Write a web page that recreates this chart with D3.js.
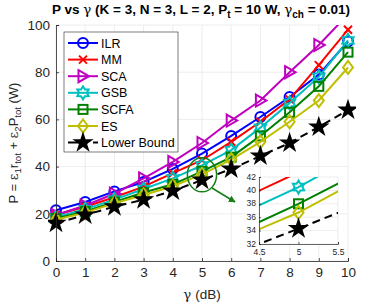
<!DOCTYPE html>
<html>
<head>
<meta charset="UTF-8">
<script src="https://d3js.org/d3.v7.min.js"></script>
<style>
  body { margin: 0; background: #fff; }
  svg { display: block; font-family: "Liberation Sans", Arial, sans-serif; }
</style>
</head>
<body>
<div id="chart"></div>
<script>
// data
const gammaDb = [0, 1, 2, 3, 4, 5, 6, 7, 8, 9, 10];
const ilr  = [21.5, 25, 29.5, 33.5, 39, 45.5, 53, 61, 69.5, 79, 93];
const mm   = [19.5, 23, 27, 31.5, 37.2, 42.7, 50.5, 59, 68.5, 83, 98];
const sca  = [19.5, 23.5, 28.5, 35, 42, 50, 59.5, 68, 80, 91.5, 104.5];
const gsb  = [18.5, 22, 26, 30.5, 35, 40.5, 47, 56.5, 67, 78, 93.5];
const scfa = [18, 21, 25, 29, 32.5, 38, 44, 53, 63, 74, 88.5];
const es   = [17.5, 20.5, 24.5, 28, 31.7, 36.7, 43, 50.5, 59, 68, 82];
const lb   = [16, 19.5, 23, 26, 29.7, 34.3, 39, 44.5, 50, 56.8, 64];

const xTicks = [0, 1, 2, 3, 4, 5, 6, 7, 8, 9, 10];
const yTicks = [0, 20, 40, 60, 80, 100];
const insetXTicks = [4.5, 5, 5.5];
const insetYTicks = [32, 34, 36, 38, 40, 42];

const series = [
  {name: "ILR", values: ilr, color: "#0000ff", marker: "circle"},
  {name: "MM", values: mm, color: "#ff0000", marker: "x"},
  {name: "SCA", values: sca, color: "#bf00bf", marker: "tri"},
  {name: "GSB", values: gsb, color: "#00bfbf", marker: "hex"},
  {name: "SCFA", values: scfa, color: "#008000", marker: "square"},
  {name: "ES", values: es, color: "#bfbf00", marker: "diamond"},
  {name: "Lower Bound", values: lb, color: "#000000", marker: "pent", dash: "8,5"}
];

const W = 366, H = 306;
const svg = d3.select("#chart").append("svg").attr("width", W).attr("height", H);
const axisCol = "#262626", gridCol = "#e8e8e8";

const x = d3.scaleLinear().domain([0, 10]).range([56, 348]);
const y = d3.scaleLinear().domain([0, 100]).range([261, 25]);

function starPath(n, R, ratio) {
  const pts = [];
  for (let i = 0; i < 2 * n; i++) {
    const r = i % 2 === 0 ? R : R * ratio;
    const a = -Math.PI / 2 + i * Math.PI / n;
    pts.push([r * Math.cos(a), r * Math.sin(a)]);
  }
  return "M" + pts.map(p => p[0].toFixed(2) + "," + p[1].toFixed(2)).join("L") + "Z";
}

function drawMarker(g, kind, color, cx, cy) {
  const m = g.append("g").attr("transform", `translate(${cx},${cy})`);
  let el;
  if (kind === "circle") el = m.append("circle").attr("r", 5);
  else if (kind === "x") el = m.append("path").attr("d", "M-4,-4L4,4M-4,4L4,-4");
  else if (kind === "tri") el = m.append("path").attr("d", "M-4.5,-6L6,0L-4.5,6Z");
  else if (kind === "hex") el = m.append("path").attr("d", starPath(6, 6.5, 0.6));
  else if (kind === "square") el = m.append("rect").attr("x", -4.5).attr("y", -4.5).attr("width", 9).attr("height", 9);
  else if (kind === "diamond") el = m.append("path").attr("d", "M0,-6.5L5,0L0,6.5L-5,0Z");
  else if (kind === "pent") el = m.append("path").attr("d", starPath(5, 8, 0.382));
  el.attr("fill", kind === "pent" ? color : "none").attr("stroke", color).attr("stroke-width", 2);
}

// grid
const grid = svg.append("g");
xTicks.forEach(t => grid.append("line").attr("x1", x(t)).attr("x2", x(t)).attr("y1", y(0)).attr("y2", y(100))
  .attr("stroke", gridCol).attr("stroke-width", 0.8));
yTicks.forEach(t => grid.append("line").attr("x1", x(0)).attr("x2", x(10)).attr("y1", y(t)).attr("y2", y(t))
  .attr("stroke", gridCol).attr("stroke-width", 0.8));

svg.append("clipPath").attr("id", "clipMain").append("rect")
  .attr("x", x(0) - 8).attr("y", y(100)).attr("width", x(10) - x(0) + 16).attr("height", y(0) - y(100) + 8);

const plot = svg.append("g").attr("clip-path", "url(#clipMain)");
const line = d3.line().x((d, i) => x(gammaDb[i])).y(d => y(d));
series.forEach(s => {
  plot.append("path").attr("d", line(s.values)).attr("fill", "none")
    .attr("stroke", s.color).attr("stroke-width", 2).attr("stroke-dasharray", s.dash || null);
  s.values.forEach((v, i) => {
    if (v <= 100) drawMarker(plot, s.marker, s.color, x(gammaDb[i]), y(v));
  });
});

// axes
const xAxis = d3.axisBottom(x).tickValues(xTicks).tickSize(-3).tickPadding(6).tickFormat(d3.format("d"));
const yAxis = d3.axisLeft(y).tickValues(yTicks).tickSize(-3).tickPadding(6).tickFormat(d3.format("d"));
const gx = svg.append("g").attr("transform", `translate(0,${y(0)})`).call(xAxis);
const gy = svg.append("g").attr("transform", `translate(${x(0)},0)`).call(yAxis);
[gx, gy].forEach(g => {
  g.select(".domain").attr("stroke", axisCol).attr("stroke-width", 0.8);
  g.selectAll(".tick line").attr("stroke", axisCol).attr("stroke-width", 0.8);
  g.selectAll(".tick text").attr("fill", axisCol).style("font-size", "13.5px")
    .style("font-family", "'Liberation Sans', Arial, sans-serif");
});

// legend
const leg = svg.append("g");
leg.append("rect").attr("x", 64).attr("y", 32).attr("width", 114).attr("height", 120)
  .attr("fill", "#fff").attr("stroke", "#262626").attr("stroke-width", 0.6);
series.forEach((s, i) => {
  const ly = 43 + i * 16.6;
  leg.append("line").attr("x1", 68).attr("x2", 98).attr("y1", ly).attr("y2", ly)
    .attr("stroke", s.color).attr("stroke-width", 2).attr("stroke-dasharray", s.dash ? "20,5" : null);
  drawMarker(leg, s.marker, s.color, 83, ly);
  leg.append("text").attr("x", 101).attr("y", ly + 4.5).text(s.name)
    .style("font-size", "12.5px").attr("fill", "#000");
});

// highlight ellipse and arrow
const dkGreen = "#128012";
svg.append("ellipse").attr("cx", x(5)).attr("cy", y(36.5)).attr("rx", (x(5.5) - x(4.5)) / 2).attr("ry", 17)
  .attr("fill", "none").attr("stroke", dkGreen).attr("stroke-width", 1.5);
svg.append("defs").append("marker").attr("id", "arr").attr("viewBox", "0 0 10 10")
  .attr("refX", 9).attr("refY", 5).attr("markerWidth", 7).attr("markerHeight", 7).attr("orient", "auto")
  .attr("markerUnits", "userSpaceOnUse")
  .append("path").attr("d", "M0,0L10,5L0,10Z").attr("fill", dkGreen);
svg.append("line").attr("x1", 212).attr("y1", 188).attr("x2", 235).attr("y2", 202)
  .attr("stroke", dkGreen).attr("stroke-width", 1.5).attr("marker-end", "url(#arr)");

// inset
const ix = d3.scaleLinear().domain([4.5, 5.5]).range([259, 338]);
const iy = d3.scaleLinear().domain([32, 42]).range([244, 177]);
const inset = svg.append("g");
inset.append("rect").attr("x", 259).attr("y", 177).attr("width", 79).attr("height", 67).attr("fill", "#fff");
insetXTicks.forEach(t => inset.append("line").attr("x1", ix(t)).attr("x2", ix(t)).attr("y1", iy(32)).attr("y2", iy(42))
  .attr("stroke", gridCol).attr("stroke-width", 0.8));
insetYTicks.forEach(t => inset.append("line").attr("x1", ix(4.5)).attr("x2", ix(5.5)).attr("y1", iy(t)).attr("y2", iy(t))
  .attr("stroke", gridCol).attr("stroke-width", 0.8));
svg.append("clipPath").attr("id", "clipInset").append("rect")
  .attr("x", 259).attr("y", 177).attr("width", 79).attr("height", 67);
const ip = inset.append("g").attr("clip-path", "url(#clipInset)");
const iline = d3.line().x((d, i) => ix(gammaDb[i])).y(d => iy(d));
series.forEach(s => {
  ip.append("path").attr("d", iline(s.values)).attr("fill", "none")
    .attr("stroke", s.color).attr("stroke-width", 2).attr("stroke-dasharray", s.dash || null);
  s.values.forEach((v, i) => {
    if (gammaDb[i] === 5 && v >= 32 && v <= 42) drawMarker(ip, s.marker, s.color, ix(5), iy(v));
  });
});
const ixAxis = d3.axisBottom(ix).tickValues(insetXTicks).tickSize(-2).tickPadding(5).tickFormat(d => String(d));
const iyAxis = d3.axisLeft(iy).tickValues(insetYTicks).tickSize(-2).tickPadding(3).tickFormat(d3.format("d"));
const igx = inset.append("g").attr("transform", `translate(0,${iy(32)})`).call(ixAxis);
const igy = inset.append("g").attr("transform", `translate(${ix(4.5)},0)`).call(iyAxis);
[igx, igy].forEach(g => {
  g.select(".domain").attr("stroke", axisCol).attr("stroke-width", 0.7);
  g.selectAll(".tick line").attr("stroke", axisCol).attr("stroke-width", 0.7);
  g.selectAll(".tick text").attr("fill", axisCol).style("font-size", "8.5px")
    .style("font-family", "'Liberation Sans', Arial, sans-serif");
});
igy.selectAll(".tick text").attr("dy", "0.25em");

// title and labels
const title = svg.append("text").attr("x", 201).attr("y", 14).attr("text-anchor", "middle")
  .style("font-size", "13.5px").style("font-weight", "bold").attr("fill", "#000");
title.append("tspan").text("P vs ");
title.append("tspan").text("γ").style("font-family", "'DejaVu Serif', serif").style("font-weight", "normal");
title.append("tspan").text(" (K = 3, N = 3, L = 2, P");
title.append("tspan").text("t").attr("dy", 4).style("font-size", "10px");
title.append("tspan").text(" = 10 W, ").attr("dy", -4);
title.append("tspan").text("γ").style("font-family", "'DejaVu Serif', serif").style("font-weight", "normal");
title.append("tspan").text("ch").attr("dy", 4).style("font-size", "10px");
title.append("tspan").text(" = 0.01)").attr("dy", -4);

const xl = svg.append("text").attr("x", 202).attr("y", 299).attr("text-anchor", "middle")
  .style("font-size", "13.5px").attr("fill", axisCol);
xl.append("tspan").text("γ").style("font-family", "'DejaVu Serif', serif");
xl.append("tspan").text(" (dB)");

const yl = svg.append("text").attr("transform", `translate(18,${y(50)}) rotate(-90)`).attr("text-anchor", "middle")
  .style("font-size", "13px").attr("fill", axisCol);
yl.append("tspan").text("P = ");
yl.append("tspan").text("ε").style("font-family", "'DejaVu Serif', serif");
yl.append("tspan").text("1").attr("dy", 3).style("font-size", "9.5px");
yl.append("tspan").text("r").attr("dy", -3);
yl.append("tspan").text("tot").attr("dy", 3).style("font-size", "9.5px");
yl.append("tspan").text(" + ").attr("dy", -3);
yl.append("tspan").text("ε").style("font-family", "'DejaVu Serif', serif");
yl.append("tspan").text("2").attr("dy", 3).style("font-size", "9.5px");
yl.append("tspan").text("P").attr("dy", -3);
yl.append("tspan").text("tot").attr("dy", 3).style("font-size", "9.5px");
yl.append("tspan").text(" (W)").attr("dy", -3);
</script>
</body>
</html>
